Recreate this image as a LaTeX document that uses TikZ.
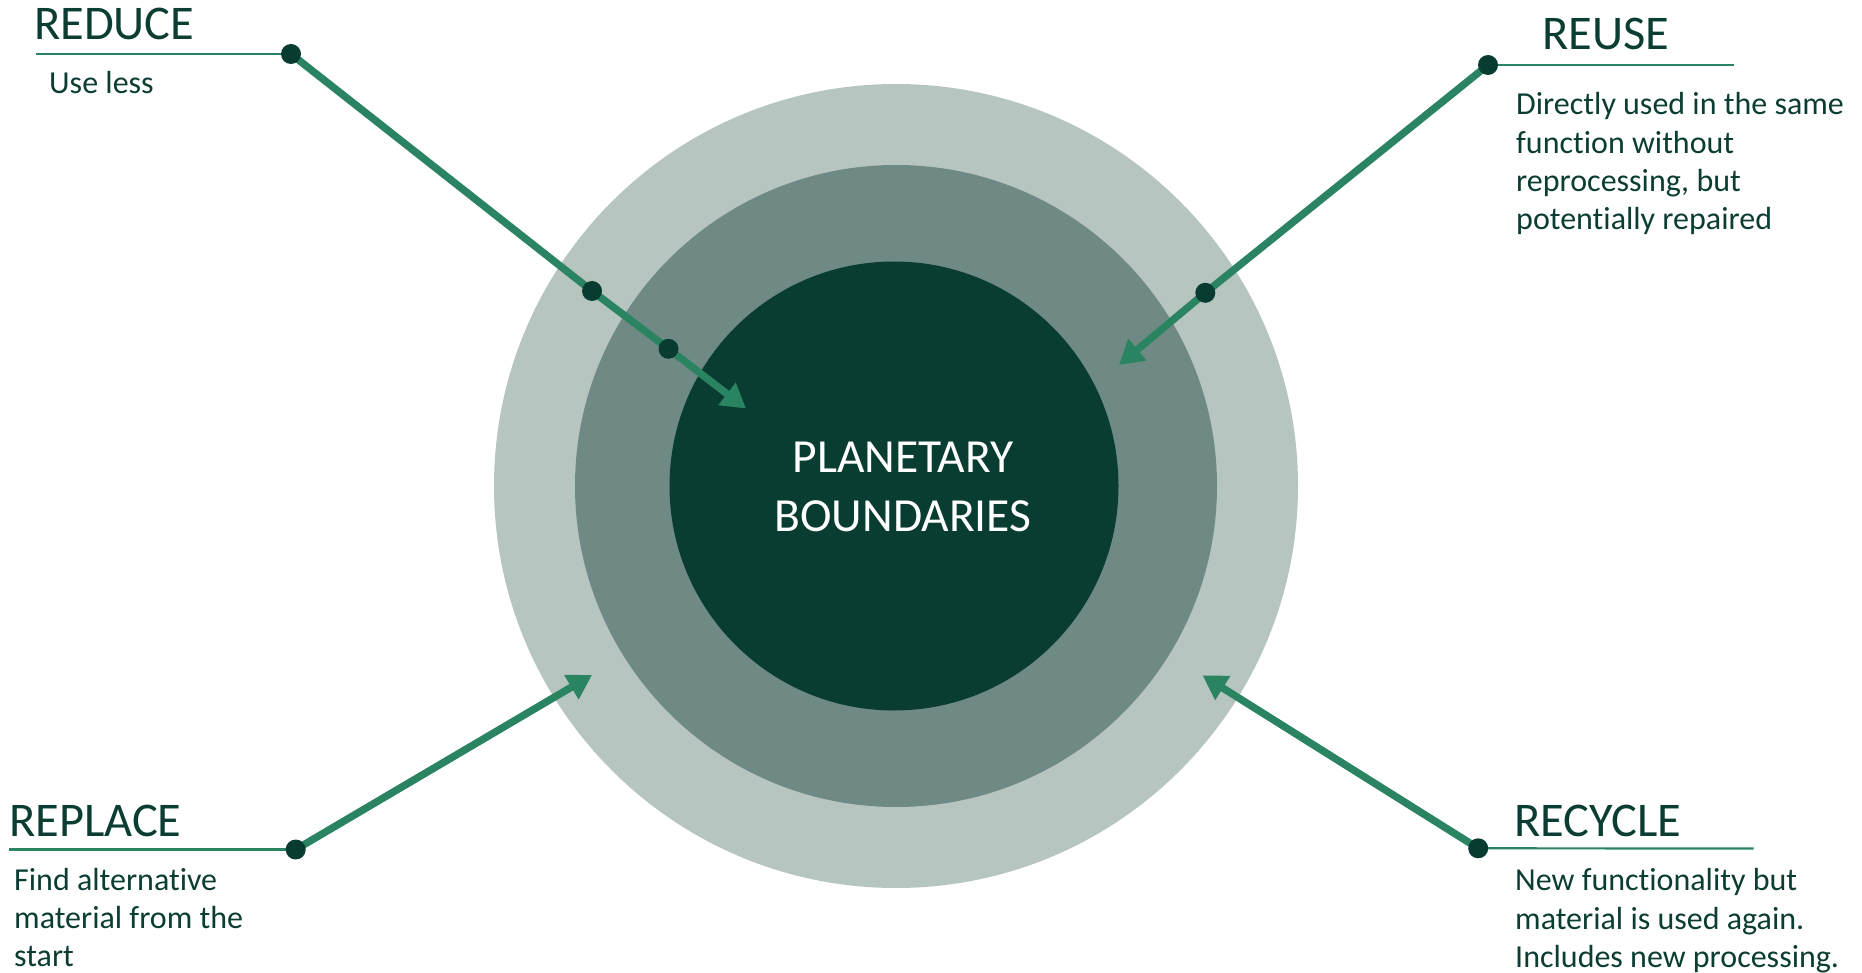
\documentclass[tikz,border=0pt]{standalone}
\usepackage{fontspec}
\setmainfont{Carlito}[Ligatures={NoCommon,NoContextual}]
\usetikzlibrary{arrows.meta}
\definecolor{ringA}{HTML}{B7C5C1}
\definecolor{ringB}{HTML}{6F8A84}
\definecolor{core}{HTML}{0A3D32}
\definecolor{arrowc}{HTML}{2A8461}
\definecolor{dotc}{HTML}{093C31}
\definecolor{txt}{HTML}{0B3D33}
\pgfdeclarelayer{bg}
\pgfsetlayers{bg,main}
\begin{document}
\begin{tikzpicture}[x=1pt,y=-1pt,
  ring/.style={circle,inner sep=0pt,draw=none},
  dotn/.style={circle,fill=dotc,minimum size=20pt,inner sep=0pt},
  conn/.style={draw=arrowc,line width=7.4pt},
  arr/.style={conn,-{Triangle[length=24pt,width=27pt]}},
  uline/.style={draw=arrowc,line width=2.2pt},
  head/.style={anchor=base west,inner sep=0pt,text=txt,font=\fontsize{48.4}{58}\selectfont},
  desc/.style={anchor=base west,inner sep=0pt,text=txt,font=\fontsize{32}{38.3}\selectfont},
  ctext/.style={anchor=base,inner sep=0pt,text=white,font=\fontsize{47.5}{59}\selectfont},
]
\useasboundingbox (0,0) rectangle (1862,973);

% rings
\begin{pgfonlayer}{bg}
\node[ring,fill=ringA,minimum size=804pt] (outer) at (896,486) {};
\node[ring,fill=ringB,minimum size=642pt] (middle) at (896,486) {};
\node[ring,fill=core,minimum size=449pt] (inner) at (894,486) {};
\end{pgfonlayer}

\node[ctext] (center) at (903,472.4) {\begin{tabular}[t]{@{}c@{}}PLANETARY\\BOUNDARIES\end{tabular}};

% dots
\node[dotn] (dReduce) at (291,54) {};
\node[dotn] (dReduceB) at (592,291) {};
\node[dotn] (dReduceC) at (668.5,348.8) {};
\node[dotn] (dReuse) at (1488,65) {};
\node[dotn] (dReuseB) at (1205.3,292.8) {};
\node[dotn] (dReplace) at (295.7,849.5) {};
\node[dotn] (dRecycle) at (1478.2,848.3) {};

% arrow tips and underline ends
\coordinate (tipReduce) at (746,408.5);
\coordinate (tipReuse) at (1119,365);
\coordinate (tipReplace) at (592,675);
\coordinate (tipRecycle) at (1202.5,675.3);
\coordinate (uReduce) at (35.6,54);
\coordinate (uReuse) at (1734,65);
\coordinate (uReplace) at (9.1,849.5);
\coordinate (uRecycle) at (1753.5,848.5);

\begin{pgfonlayer}{bg}
\draw[arr] (dReduce.center) -- (dReduceB.center) -- (dReduceC.center) -- (tipReduce);
\draw[arr] (dReuse.center) -- (dReuseB.center) -- (tipReuse);
\draw[arr] (dReplace.center) -- (tipReplace);
\draw[arr] (dRecycle.center) -- (tipRecycle);
\draw[uline] (uReduce) -- (dReduce.center);
\draw[uline] (dReuse.center) -- (uReuse);
\draw[uline] (uReplace) -- (dReplace.center);
\draw[uline] (dRecycle.center) -- (uRecycle);
\end{pgfonlayer}

% labels
\node[head] (hReduce) at (34,39.3) {REDUCE};
\node[desc] (tReduce) at (49,93.5) {Use less};

\node[head] (hReuse) at (1542,50) {REUSE};
\node[desc] (tReuse) at (1516,115) {\begin{tabular}[t]{@{}l@{}}Directly used in the same\\function without\\reprocessing, but\\potentially repaired\end{tabular}};

\node[head] (hReplace) at (9,836.7) {REPLACE};
\node[desc] (tReplace) at (14,890) {\begin{tabular}[t]{@{}l@{}}Find alternative\\material from the\\start\end{tabular}};

\node[head] (hRecycle) at (1514,836.5) {RECYCLE};
\node[desc] (tRecycle) at (1515,890.7) {\begin{tabular}[t]{@{}l@{}}New functionality but\\material is used again.\\Includes new processing.\end{tabular}};
\end{tikzpicture}
\end{document}
